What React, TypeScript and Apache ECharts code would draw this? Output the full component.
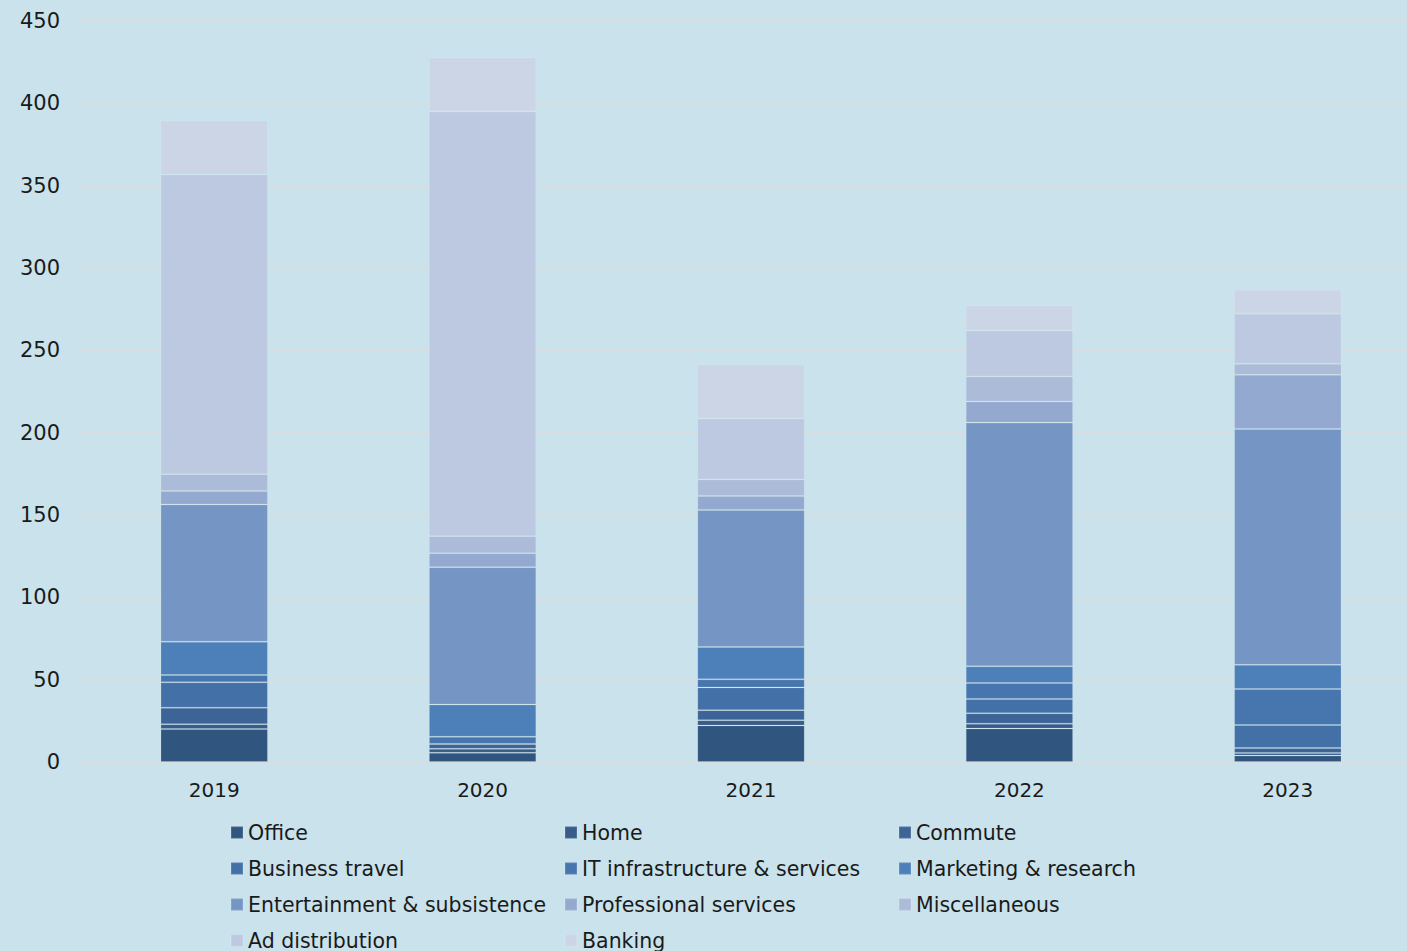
import React, { useEffect, useRef } from "react";
import * as echarts from "echarts";

const years = ["2019", "2020", "2021", "2022", "2023"];
const seriesNames = [
  "Office",
  "Home",
  "Commute",
  "Business travel",
  "IT infrastructure & services",
  "Marketing & research",
  "Entertainment & subsistence",
  "Professional services",
  "Miscellaneous",
  "Ad distribution",
  "Banking",
];
const office = [20, 5.6, 22.2, 20.3, 3.9];
const home = [3, 2.4, 3.2, 3, 1.6];
const commute = [10, 3, 6.1, 6.3, 3];
const businessTravel = [15.4, 0, 13.8, 8.7, 14];
const itInfra = [4.4, 4.3, 4.9, 9.7, 21.9];
const marketing = [20.2, 19.6, 19.6, 10.1, 14.6];
const entertainment = [83.4, 83.4, 83.2, 148, 143.3];
const professional = [8.1, 8.5, 8.5, 12.8, 32.8];
const misc = [10.3, 10.3, 10.1, 15.2, 6.7];
const adDistribution = [182, 258, 37, 27.9, 30.4];
const banking = [32.8, 32.8, 32.8, 15.2, 14.6];
const seriesValues = [
  office,
  home,
  commute,
  businessTravel,
  itInfra,
  marketing,
  entertainment,
  professional,
  misc,
  adDistribution,
  banking,
];
const colors = [
  "#30557f",
  "#375c8a",
  "#3d6496",
  "#4370a6",
  "#4776ae",
  "#4d7fb8",
  "#7596c4",
  "#93a9d0",
  "#abbbd8",
  "#bcc9e0",
  "#cbd5e6",
];

export default function App() {
  const ref = useRef<HTMLDivElement>(null);
  useEffect(() => {
    if (!ref.current) return;
    const chart = echarts.init(ref.current, null, { renderer: "svg" });
    const font = "DejaVu Sans";
    chart.setOption({
      animation: false,
      backgroundColor: "#c9e2eb",
      textStyle: { fontFamily: font },
      grid: { left: 80, top: 21, right: 0, bottom: 189, containLabel: false },
      xAxis: {
        type: "category",
        data: years,
        axisLine: { show: false },
        axisTick: { show: false },
        axisLabel: { color: "#1a1a1a", fontSize: 20, fontFamily: font, margin: 18 },
      },
      yAxis: {
        type: "value",
        min: 0,
        max: 450,
        interval: 50,
        axisLine: { show: false },
        axisTick: { show: false },
        splitLine: { lineStyle: { color: "#dcdcdc", width: 1.5 } },
        axisLabel: { color: "#1a1a1a", fontSize: 21, fontFamily: font, margin: 20 },
      },
      legend: {
        left: 230,
        top: 821,
        width: 1010,
        padding: 0,
        orient: "horizontal",
        itemWidth: 12,
        itemHeight: 12,
        itemGap: 13,
        icon: "rect",
        data: seriesNames,
        textStyle: {
          color: "#1a1a1a",
          fontSize: 20.5,
          fontFamily: font,
          width: 303,
          lineHeight: 23,
        },
      },
      series: seriesNames.map((name, i) => ({
        name,
        type: "bar",
        stack: "total",
        barWidth: "40%",
        data: seriesValues[i],
        itemStyle: {
          color: colors[i],
          borderColor: "rgba(255,255,255,0.12)",
          borderWidth: 1,
        },
      })),
    });
    return () => chart.dispose();
  }, []);
  return (
    <div
      ref={ref}
      style={{ position: "fixed", left: 0, top: 0, width: 1422, height: 951 }}
    />
  );
}
